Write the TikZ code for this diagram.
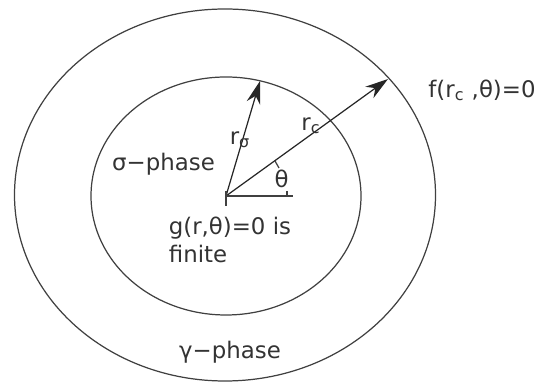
\documentclass[tikz,border=0pt]{standalone}
\usepackage{fontspec}
\setmainfont{DejaVu Sans}
\usepackage{tikz}
\usetikzlibrary{arrows.meta, calc, positioning}

\begin{document}
\begin{tikzpicture}[>={Stealth[length=4.6mm, width=2.8mm]}, line width=0.7pt,
    lbl/.style={text=black!80, font=\fontsize{13}{15.5}\selectfont, inner sep=1pt}]
    \useasboundingbox (0,0) rectangle (10.98,7.66);
    % the two phase boundaries
    \draw[black!75] (4.5,3.76) ellipse [x radius=4.21, y radius=3.72];
    \draw[black!75] (4.52,3.74) ellipse [x radius=2.7, y radius=2.38];
    \coordinate (O) at (4.52,3.74);
    \coordinate (sigtip) at (5.2,6.04);
    \coordinate (rctip) at (7.76,6.08);
    \coordinate (xend) at (5.86,3.74);
    % radii
    \draw[->, black!85] (O) -- (sigtip);
    \draw[->, black!85] (O) -- (rctip);
    \draw[black!75] (O) -- (xend);
    \draw[black!75] (4.52,3.84) -- (4.52,3.54);
    \draw[black!75] (5.74,3.84) -- (5.74,3.74);
    \draw[black!75] (5.5,4.44) -- (5.58,4.3);
    % labels
    \node[lbl] (theta) at (5.63,4.09) {θ};
    \node[lbl] (rsig) at (4.8,4.86) {r\textsubscript{σ}};
    \node[lbl] (rc) at (6.22,5.14) {r\textsubscript{c}};
    \node[lbl] (sigma) at (3.27,4.38) {σ−phase};
    \node[lbl, align=left, anchor=north west] (g) at (3.33,3.36) {g(r,θ)=0 is\\finite};
    \node[lbl] (gamma) at (4.6,0.62) {γ−phase};
    \node[lbl] (f) at (9.64,5.86) {f(r\textsubscript{c} ,θ)=0};
\end{tikzpicture}
\end{document}
